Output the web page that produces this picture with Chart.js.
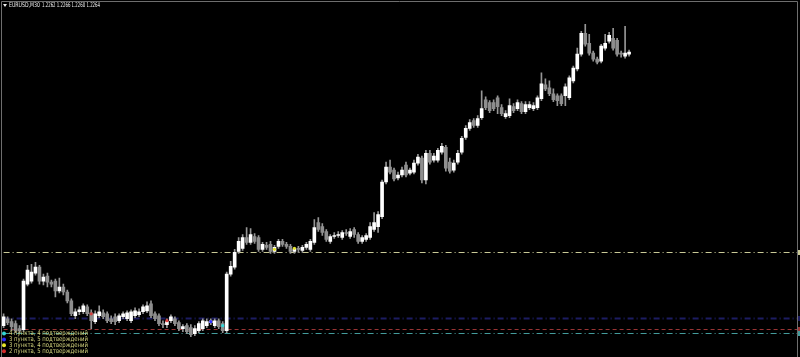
<!DOCTYPE html>
<html><head><meta charset="utf-8">
<script src="https://cdn.jsdelivr.net/npm/chart.js@4.4.0/dist/chart.umd.min.js"></script>
<style>html,body{margin:0;padding:0;background:#000;overflow:hidden}#wrap{position:relative;width:800px;height:357px}canvas{display:block}</style>
</head><body><div id="wrap"><canvas id="c" width="800" height="357"></canvas></div>
<script>
const symbolTitle = "EURUSD,M30";
const titleValues = "1.2262 1.2266 1.2260 1.2264";

const openP = [
1.1988,1.1995,1.1992,1.1990,1.1985,1.1984,1.2030,1.2033,1.2041,1.2047,
1.2033,1.2038,1.2032,1.2033,1.2023,1.2027,1.2022,1.2013,1.1998,1.2002,
1.2002,1.2007,1.2001,1.1992,1.1998,1.2001,1.2000,1.1995,1.1997,1.1993,
1.1997,1.1995,1.1993,1.1998,1.1999,1.2002,1.2003,1.2010,1.2000,1.1998,
1.1990,1.1989,1.1993,1.1995,1.1991,1.1985,1.1988,1.1986,1.1980,1.1983,
1.1985,1.1988,1.1991,1.1988,1.1993,1.1990,1.1983,1.2040,1.2047,1.2063,
1.2066,1.2077,1.2072,1.2078,1.2077,1.2065,1.2069,1.2070,1.2063,1.2068,
1.2073,1.2070,1.2068,1.2063,1.2066,1.2064,1.2067,1.2065,1.2072,1.2092,
1.2088,1.2083,1.2073,1.2078,1.2079,1.2077,1.2082,1.2078,1.2085,1.2080,
1.2073,1.2075,1.2077,1.2085,1.2088,1.2098,1.2133,1.2148,1.2145,1.2137,
1.2140,1.2150,1.2142,1.2143,1.2152,1.2157,1.2135,1.2162,1.2155,1.2155,
1.2163,1.2168,1.2153,1.2145,1.2153,1.2163,1.2178,1.2187,1.2195,1.2190,
1.2198,1.2216,1.2213,1.2213,1.2218,1.2208,1.2199,1.2200,1.2209,1.2207,
1.2212,1.2204,1.2208,1.2207,1.2208,1.2217,1.2231,1.2228,1.2222,1.2220,
1.2220,1.2220,1.2218,1.2235,1.2247,1.2262,1.2283,1.2273,1.2263,1.2257,
1.2255,1.2268,1.2275,1.2278,1.2276,1.2263,1.2260,1.2262];

const highP = [
1.2000,1.1997,1.1995,1.1993,1.1988,1.2035,1.2049,1.2050,1.2052,1.2049,
1.2040,1.2041,1.2034,1.2035,1.2036,1.2030,1.2024,1.2015,1.2005,1.2007,
1.2010,1.2009,1.2004,1.2003,1.2008,1.2004,1.2002,1.1998,1.2000,1.2000,
1.2002,1.2003,1.2004,1.2006,1.2005,1.2009,1.2012,1.2013,1.2002,1.2000,
1.1993,1.1995,1.1999,1.1997,1.1993,1.1989,1.1990,1.1989,1.1988,1.1992,
1.1995,1.1995,1.1995,1.1995,1.1995,1.1992,1.2042,1.2053,1.2065,1.2077,
1.2080,1.2087,1.2086,1.2081,1.2079,1.2072,1.2072,1.2073,1.2069,1.2075,
1.2075,1.2072,1.2070,1.2067,1.2068,1.2069,1.2072,1.2075,1.2095,1.2097,
1.2091,1.2085,1.2080,1.2082,1.2083,1.2084,1.2085,1.2086,1.2087,1.2082,
1.2079,1.2081,1.2092,1.2102,1.2103,1.2135,1.2153,1.2155,1.2147,1.2143,
1.2148,1.2153,1.2147,1.2155,1.2161,1.2159,1.2165,1.2165,1.2162,1.2167,
1.2172,1.2170,1.2157,1.2155,1.2165,1.2179,1.2190,1.2196,1.2197,1.2200,
1.2225,1.2219,1.2215,1.2216,1.2220,1.2211,1.2205,1.2217,1.2212,1.2216,
1.2214,1.2214,1.2214,1.2213,1.2220,1.2243,1.2237,1.2235,1.2227,1.2222,
1.2222,1.2232,1.2240,1.2250,1.2268,1.2285,1.2292,1.2282,1.2265,1.2259,
1.2272,1.2282,1.2284,1.2288,1.2278,1.2265,1.2290,1.2266];

const lowP = [
1.1986,1.1989,1.1983,1.1981,1.1981,1.1982,1.2028,1.2031,1.2039,1.2030,
1.2029,1.2027,1.2027,1.2017,1.2021,1.2019,1.2011,1.1998,1.1995,1.1999,
1.2000,1.1998,1.1985,1.1990,1.1996,1.1995,1.1991,1.1990,1.1989,1.1991,
1.1995,1.1993,1.1991,1.1996,1.1997,1.2000,1.2001,1.1996,1.1993,1.1988,
1.1986,1.1986,1.1991,1.1988,1.1983,1.1982,1.1980,1.1977,1.1978,1.1981,
1.1983,1.1986,1.1989,1.1986,1.1985,1.1981,1.1981,1.2038,1.2045,1.2061,
1.2064,1.2070,1.2070,1.2071,1.2063,1.2063,1.2065,1.2061,1.2061,1.2066,
1.2068,1.2066,1.2061,1.2061,1.2062,1.2062,1.2065,1.2063,1.2070,1.2083,
1.2079,1.2073,1.2071,1.2076,1.2077,1.2075,1.2079,1.2076,1.2077,1.2071,
1.2071,1.2073,1.2075,1.2083,1.2082,1.2096,1.2131,1.2141,1.2134,1.2135,
1.2138,1.2138,1.2140,1.2141,1.2150,1.2132,1.2131,1.2151,1.2153,1.2153,
1.2161,1.2144,1.2142,1.2143,1.2151,1.2161,1.2176,1.2185,1.2188,1.2188,
1.2196,1.2206,1.2203,1.2205,1.2202,1.2200,1.2197,1.2198,1.2203,1.2205,
1.2202,1.2202,1.2206,1.2205,1.2206,1.2215,1.2225,1.2220,1.2214,1.2210,
1.2210,1.2210,1.2216,1.2233,1.2245,1.2260,1.2270,1.2261,1.2255,1.2252,
1.2253,1.2266,1.2273,1.2266,1.2260,1.2259,1.2258,1.2260];

const closeP = [
1.1997,1.1991,1.1987,1.1983,1.1983,1.2033,1.2044,1.2042,1.2047,1.2033,
1.2037,1.2032,1.2030,1.2023,1.2027,1.2022,1.2013,1.2000,1.2002,1.2004,
1.2008,1.2000,1.1993,1.2000,1.2002,1.1997,1.1993,1.1992,1.1992,1.1998,
1.2000,1.2001,1.2002,1.2003,1.2002,1.2007,1.2008,1.1998,1.1995,1.1990,
1.1989,1.1992,1.1997,1.1990,1.1985,1.1987,1.1982,1.1979,1.1985,1.1990,
1.1993,1.1992,1.1993,1.1993,1.1987,1.1983,1.2040,1.2048,1.2062,1.2073,
1.2077,1.2072,1.2080,1.2073,1.2065,1.2070,1.2067,1.2063,1.2067,1.2073,
1.2070,1.2068,1.2063,1.2065,1.2065,1.2067,1.2070,1.2073,1.2087,1.2085,
1.2082,1.2075,1.2078,1.2079,1.2080,1.2082,1.2081,1.2083,1.2080,1.2073,
1.2077,1.2079,1.2088,1.2092,1.2100,1.2133,1.2148,1.2143,1.2136,1.2140,
1.2145,1.2140,1.2145,1.2152,1.2158,1.2135,1.2162,1.2153,1.2159,1.2165,
1.2169,1.2147,1.2144,1.2152,1.2162,1.2177,1.2187,1.2193,1.2190,1.2197,
1.2207,1.2208,1.2205,1.2207,1.2209,1.2202,1.2202,1.2210,1.2205,1.2213,
1.2204,1.2211,1.2211,1.2210,1.2218,1.2232,1.2227,1.2222,1.2216,1.2215,
1.2212,1.2229,1.2238,1.2248,1.2262,1.2283,1.2272,1.2263,1.2257,1.2254,
1.2270,1.2273,1.2281,1.2268,1.2262,1.2262,1.2263,1.2264];

const emptySlots = 42;               // chart shift area on the right
const levels = [1.2062, 1.1996, 1.1985, 1.1981];
const levelColors = ['#c9c996', '#1c1c62', '#9a3434', '#449c9c'];
const levelDashes = [[6,3,1,3], [6,3,1,3], [4,3], [6,3,1,3]];
const levelWidths = [1, 2, 1, 1];

const legendTexts = ["4 пункта, 4 подтверждений","3 пункта, 5 подтверждений","3 пункта, 4 подтверждений","2 пункта, 5 подтверждений"];
const legendColors = ['#33d6d6','#2a2aff','#e6e62a','#d42a2a'];

const markerIdx = [22, 41, 52, 55, 68, 73];
const markerVal = [1.2000, 1.1993, 1.1992, 1.1988, 1.2065, 1.2066];
const markerCol = ['#d04040','#e04040','#3030ff','#33d6d6','#e6e62a','#e6e62a'];

const yMin = 1.1958, yMax = 1.2315;

// ---- build
const nBars = openP.length;
const labels = Array.from({length: nBars + emptySlots}, (_, i) => String(i));
const wickData = labels.map((_, i) => i < nBars ? [lowP[i], highP[i]] : null);
const bodyData = labels.map((_, i) => i < nBars ? [openP[i], closeP[i]] : null);
const markerSets = markerIdx.map((idx, k) => {
  const d = labels.map(() => null); d[idx] = markerVal[k];
  return {type:'line', data:d, showLine:false, pointRadius:1.6, pointHoverRadius:1.6,
          pointBackgroundColor:markerCol[k], pointBorderWidth:0, order:0};
});

const bgPlugin = {id:'bg', beforeDraw(c){const x=c.ctx;x.save();x.fillStyle='#000';x.fillRect(0,0,c.width,c.height);x.restore();}};
const levelsPlugin = {id:'levels', beforeDatasetsDraw(c){
  const ctx=c.ctx, ys=c.scales.y, a=c.chartArea;
  levels.forEach((v,k)=>{
    const py=Math.round(ys.getPixelForValue(v))+0.5;
    ctx.save();
    ctx.strokeStyle=levelColors[k]; ctx.lineWidth=levelWidths[k]; ctx.setLineDash(levelDashes[k]);
    ctx.beginPath(); ctx.moveTo(a.left+2, py); ctx.lineTo(797, py); ctx.stroke();
    ctx.fillStyle=levelColors[k]; ctx.fillRect(797, py-2.5, 3, 5);
    ctx.restore();
  });
}};
const overlayPlugin = {id:'overlay', afterDraw(c){
  const ctx=c.ctx;
  ctx.save();
  // frame
  ctx.strokeStyle='#6e6e6e'; ctx.lineWidth=1; ctx.setLineDash([]);
  ctx.beginPath();
  ctx.moveTo(1.5, 357); ctx.lineTo(1.5, 1.5); ctx.lineTo(797.5, 1.5); ctx.lineTo(797.5, 357);
  ctx.stroke();
  // title
  ctx.fillStyle='#ececec';
  ctx.beginPath(); ctx.moveTo(3,4); ctx.lineTo(7,4); ctx.lineTo(5,7); ctx.closePath(); ctx.fill();
  ctx.font='6.5px "DejaVu Sans"'; ctx.textBaseline='middle'; ctx.textAlign='left';
  ctx.fillText(symbolTitle, 9, 5.5, 31);
  ctx.fillText(titleValues, 42, 5.5, 58);
  // legend
  ctx.font='6.5px "DejaVu Sans"';
  legendTexts.forEach((t,k)=>{
    const y = 333.5 + k*5.9;
    ctx.fillStyle=legendColors[k];
    ctx.beginPath(); ctx.arc(4, y, 2, 0, Math.PI*2); ctx.fill();
    ctx.fillStyle='#d4d47e';
    ctx.fillText(t, 9, y, 79);
  });
  ctx.restore();
}};

new Chart(document.getElementById('c'), {
  type:'bar',
  data:{labels, datasets:[
    ...markerSets,
    {data:wickData, backgroundColor:'#969696', barThickness:1, grouped:false, order:2},
    {data:bodyData, backgroundColor:(x)=>{const i=x.dataIndex; return closeP[i]>=openP[i]?'#ffffff':'#8e8e8e';},
     barThickness:3, grouped:false, order:1}
  ]},
  options:{
    responsive:false, animation:false, devicePixelRatio:1,
    layout:{padding:0},
    plugins:{legend:{display:false}, tooltip:{enabled:false}, title:{display:false}},
    scales:{
      x:{display:false, offset:true, grid:{display:false}},
      y:{display:false, min:yMin, max:yMax, grid:{display:false}}
    },
    events:[]
  },
  plugins:[bgPlugin, levelsPlugin, overlayPlugin]
});
</script></body></html>
